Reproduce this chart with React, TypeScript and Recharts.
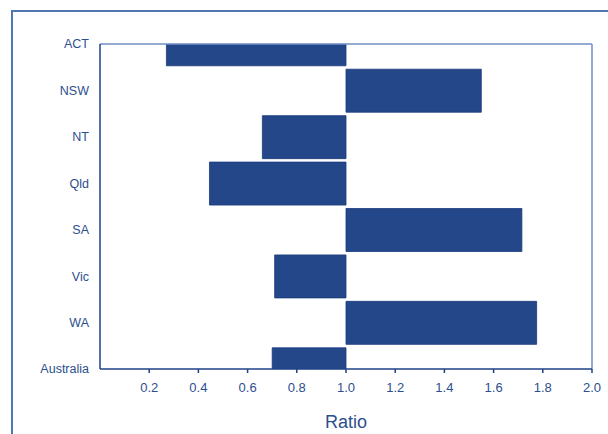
import { BarChart, Bar, XAxis, YAxis, ReferenceLine } from "recharts";

const states = ["ACT", "NSW", "NT", "Qld", "SA", "Vic", "WA", "Australia"];
const ratios = [0.27, 1.55, 0.66, 0.445, 1.715, 0.71, 1.775, 0.7];
const xTicks = [0.2, 0.4, 0.6, 0.8, 1.0, 1.2, 1.4, 1.6, 1.8, 2.0];

const TEXT = "#2c4f8e";
const AXIS = "#1f4288";
const EDGE = "#6f8fc4";

// ranged bars from the 1.0 baseline
const data = states.map((name, idx) => ({ name, idx, range: [1, ratios[idx]] }));

export default function App() {
  return (
    <div style={{ position: "absolute", left: 0, top: 0, width: 608, height: 434, background: "#fff", overflow: "hidden" }}>
      <div
        style={{
          position: "absolute",
          left: 11,
          top: 10,
          width: 640,
          height: 480,
          border: "2px solid #4f77b4",
        }}
      />
      <div style={{ position: "absolute", left: 0, top: 0 }}>
        <BarChart
          width={608}
          height={434}
          data={data}
          layout="vertical"
          margin={{ top: 44, right: 16, left: 0, bottom: 0 }}
          style={{ fontFamily: "Liberation Sans, Arial, sans-serif" }}
        >
          <XAxis
            type="number"
            domain={[0, 2]}
            ticks={xTicks}
            tickFormatter={(v: number) => v.toFixed(1)}
            height={65}
            tickSize={4}
            tickMargin={10}
            stroke={AXIS}
            axisLine={{ stroke: AXIS, strokeWidth: 1.5 }}
            tickLine={{ stroke: AXIS, strokeWidth: 1.5 }}
            tick={{ fill: TEXT, fontSize: 13 }}
            label={{ value: "Ratio", position: "insideBottom", offset: 6, fill: TEXT, fontSize: 18 }}
          />
          <YAxis
            type="number"
            dataKey="idx"
            domain={[0, 7]}
            ticks={[0, 1, 2, 3, 4, 5, 6, 7]}
            allowDataOverflow
            tickFormatter={(i: number) => states[i]}
            width={100}
            tickLine={false}
            tickMargin={5}
            axisLine={{ stroke: AXIS, strokeWidth: 1.5 }}
            tick={{ fill: TEXT, fontSize: 12.5 }}
          />
          <ReferenceLine y={0} stroke={EDGE} strokeWidth={1.5} />
          <ReferenceLine x={2} stroke={EDGE} strokeWidth={1.5} />
          <Bar
            dataKey="range"
            barSize={43}
            fill="#24478a"
            stroke="#1a3a7c"
            strokeWidth={0.8}
            isAnimationActive={false}
          />
        </BarChart>
      </div>
    </div>
  );
}
